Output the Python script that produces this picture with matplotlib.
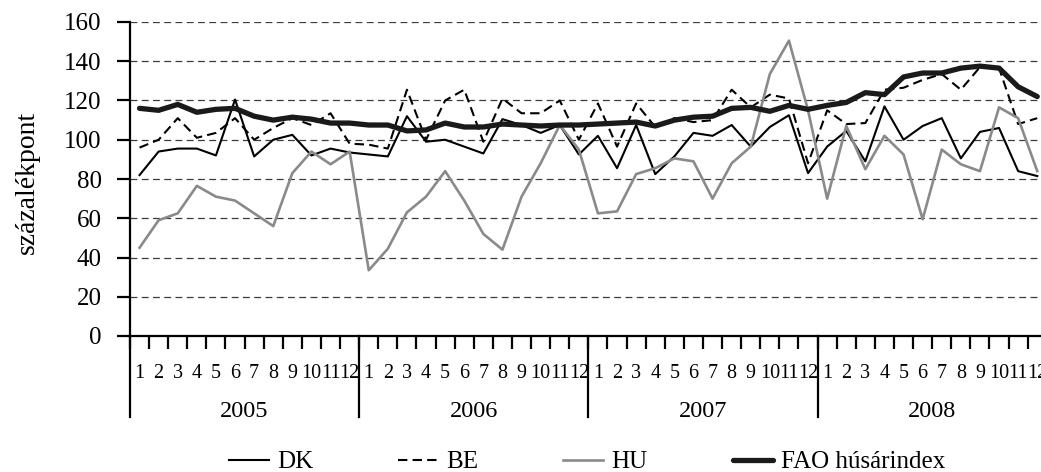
import matplotlib
matplotlib.use("Agg")
import matplotlib.pyplot as plt
import matplotlib.transforms as mtransforms
import numpy as np

plt.rcParams["font.family"] = ["Liberation Serif", "DejaVu Serif"]

years = ["2005", "2006", "2007", "2008"]
months = [str(m) for m in range(1, 13)]

dk = [82, 94, 95.5, 95.5, 92, 120.5, 91.5, 100, 102.5, 92, 95.5, 93.5,
      92.5, 91.5, 112, 99, 100, 96.5, 93, 110.5, 107.5, 103.5, 107.5, 92.5,
      102, 85.5, 107.5, 82.5, 91.5, 103.5, 102, 107.5, 96.5, 106.5, 112.5, 83,
      96.5, 104.5, 89, 117, 100, 107, 111, 90.5, 104, 106, 84, 81.5]
be = [96, 100, 111, 101, 103.5, 111, 100, 106, 111, 107.5, 113.5, 98,
      97.5, 95.5, 125.5, 100, 120, 125.5, 99, 121, 113.5, 113.5, 120, 100,
      118.5, 96.5, 118.5, 106.5, 111, 109, 110, 125.5, 116.5, 123, 121, 88,
      115, 108, 108.5, 125.5, 126.5, 130.5, 133.5, 125.5, 137, 136.5, 108, 111]
hu = [45, 59, 62.5, 76.5, 71, 69, 62.5, 56, 83, 94, 87.5, 94,
      33.5, 44.5, 63, 71, 84, 69, 52, 44, 71, 88, 107.5, 95,
      62.5, 63.5, 82.5, 85.5, 90.5, 89, 70, 88, 96.5, 133.5, 150.5, 115,
      70, 107, 85, 102, 92.5, 59.5, 95, 87.5, 84, 116.5, 111, 84]
fao = [116, 115, 118, 114, 115.5, 116, 112, 110, 111.5, 110.5, 108.5, 108.5,
       107.5, 107.5, 104.5, 105, 108.5, 106.5, 106.5, 108, 107.5, 107, 107.5, 107.5,
       108, 108.5, 109, 107, 110, 111.5, 112, 116, 116.5, 114.5, 117.5, 115.5,
       117.5, 119, 124, 123, 132, 134, 134, 136.5, 137.5, 136.5, 127, 122]

W, H = 1041, 472
fig = plt.figure(figsize=(W / 100, H / 100), dpi=100)
# plot area in pixels: x 130..1047, y 22..336 (from top)
ax = fig.add_axes([130 / W, (H - 336) / H, 916.8 / W, 314 / H])

n = len(dk)
x = np.arange(n) + 0.5
ax.plot(x, dk, color="black", lw=1.5, label="DK")
ax.plot(x, be, color="black", lw=1.5, linestyle=(0, (4.5, 2.5)), label="BE")
ax.plot(x, hu, color="#8a8a8a", lw=1.9, label="HU")
ax.plot(x, fao, color="#1a1a1a", lw=3.8, solid_capstyle="round", label="FAO húsárindex")

ax.set_xlim(0, n)
ax.set_ylim(0, 160)
ax.set_yticks(np.arange(0, 161, 20))
ax.yaxis.grid(True, color="#3c3c3c", lw=0.9, linestyle=(0, (5.5, 3.5)))
ax.set_axisbelow(True)

for side in ("top", "right"):
    ax.spines[side].set_visible(False)
for side in ("left", "bottom"):
    ax.spines[side].set_linewidth(1.6)
    ax.spines[side].set_color("black")

ax.tick_params(axis="y", direction="out", length=9.4, width=1.6, pad=11, labelsize=18)

# month boundaries as major ticks, month names centred as minor tick labels
ax.set_xticks(np.arange(0, n + 1))
ax.set_xticklabels([])
ax.set_xticks(x, minor=True)
ax.set_xticklabels(months * len(years), minor=True)
ax.tick_params(axis="x", which="major", direction="out", length=9.4, width=1.6)
ax.tick_params(axis="x", which="minor", length=0, pad=20, labelsize=14.5)

# year dividers and year labels
trans = mtransforms.blended_transform_factory(ax.transData, ax.transAxes)
for k in range(len(years) + 1):
    ax.plot([k * 12, k * 12], [0, -81 / 314], color="black", lw=1.6,
            transform=trans, clip_on=False)
for k, yr in enumerate(years):
    ax.text(k * 12 + 6, -81 / 314, yr, transform=trans, ha="center",
            va="baseline", fontsize=17.5)

fig.text(27 / W, (H - 182) / H, "százalékpont", rotation=90, ha="center",
         va="center", fontsize=20)

fig.legend(loc="center", bbox_to_anchor=(587 / W, 10 / H), ncol=4, frameon=False,
           fontsize=18, handlelength=1.6, handletextpad=0.32, columnspacing=3.4,
           borderpad=0)

fig.savefig("out.png", dpi=100)
